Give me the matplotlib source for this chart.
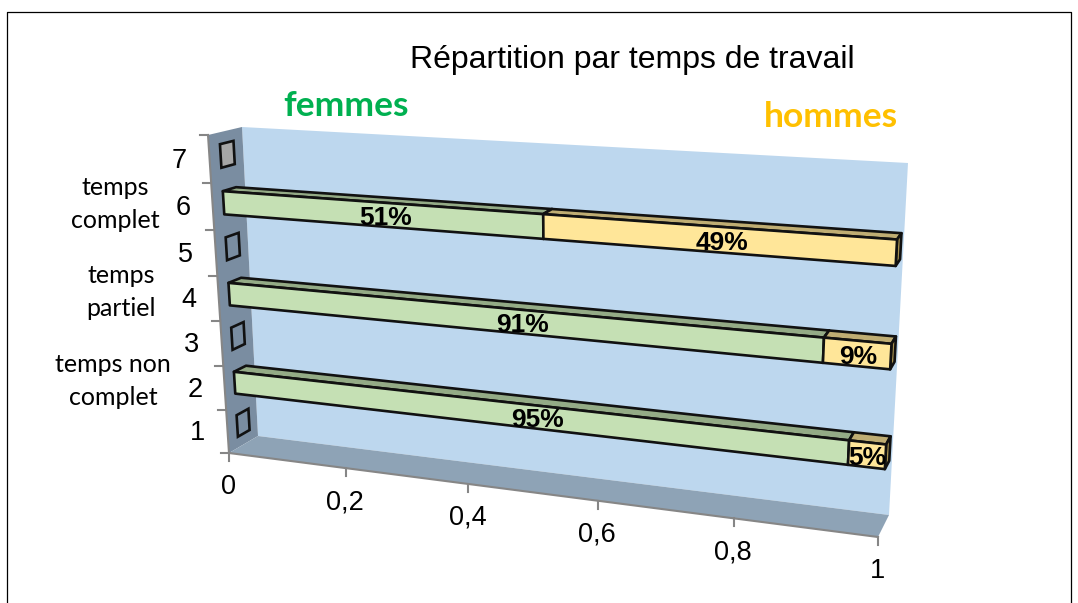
import numpy as np
import matplotlib
matplotlib.use("Agg")
import matplotlib.pyplot as plt
from matplotlib.patches import Polygon

title = "Répartition par temps de travail"
categories = ["temps non\ncomplet", "temps\npartiel", "temps\ncomplet"]
bar_pos = [1.5, 3.5, 5.5]
femmes = [0.95, 0.91, 0.51]
hommes = [0.05, 0.09, 0.49]
empty_pos = [0.5, 2.5, 4.5, 6.5]
x_ticks = [0, 0.2, 0.4, 0.6, 0.8, 1]
x_labels = ["0", "0,2", "0,4", "0,6", "0,8", "1"]
y_ticks = [0, 1, 2, 3, 4, 5, 6, 7]
y_labels = ["1", "2", "3", "4", "5", "6", "7"]

# corners of the 3d box in pixels: (0,0), (1,0), (0,7), (1,7)
front_quad = [(229, 453), (878, 537), (208, 135), (897, 177)]
back_quad = [(258, 436), (889, 515), (242, 127), (908, 163)]
bar_h = 0.25
d0, d1 = 0.33, 0.73


def homography(quad):
    src = [(0, 0), (1, 0), (0, 7), (1, 7)]
    a, b = [], []
    for (x, y), (u, v) in zip(src, quad):
        a.append([x, y, 1, 0, 0, 0, -u * x, -u * y])
        a.append([0, 0, 0, x, y, 1, -v * x, -v * y])
        b += [u, v]
    return np.append(np.linalg.solve(np.array(a, float), np.array(b, float)), 1).reshape(3, 3)


H_front = homography(front_quad)
H_back = homography(back_quad)


def proj(x, y, d=0.0):
    f = H_front @ [x, y, 1]
    b = H_back @ [x, y, 1]
    return (1 - d) * f[:2] / f[2] + d * b[:2] / b[2]


def box(ax, x0, x1, y, face, top, side):
    lo, hi = y - bar_h, y + bar_h
    kw = dict(edgecolor="#111111", linewidth=1.9, joinstyle="round", zorder=5)
    ax.add_patch(Polygon([proj(x0, hi, d0), proj(x1, hi, d0), proj(x1, hi, d1), proj(x0, hi, d1)], facecolor=top, **kw))
    ax.add_patch(Polygon([proj(x1, lo, d0), proj(x1, hi, d0), proj(x1, hi, d1), proj(x1, lo, d1)], facecolor=side, **kw))
    ax.add_patch(Polygon([proj(x0, lo, d0), proj(x1, lo, d0), proj(x1, hi, d0), proj(x0, hi, d0)], facecolor=face, **kw))


fig = plt.figure(figsize=(10.78, 6.03), dpi=100)
ax = fig.add_axes([0, 0, 1, 1])
ax.set_xlim(0, 1078)
ax.set_ylim(603, 0)
ax.axis("off")

# frame of the slide
ax.plot([7, 7, 1071, 1071], [603, 12, 12, 603], color="black", linewidth=0.9)

# walls
ax.add_patch(Polygon([proj(0, 0, 1), proj(1, 0, 1), proj(1, 7, 1), proj(0, 7, 1)], facecolor="#bdd7ee", edgecolor="none"))
ax.add_patch(Polygon([proj(0, 0), proj(0, 7), proj(0, 7, 1), proj(0, 0, 1)], facecolor="#7a8da1", edgecolor="none"))
ax.add_patch(Polygon([proj(0, 0), proj(1, 0), proj(1, 0, 1), proj(0, 0, 1)], facecolor="#8ea3b6", edgecolor="none"))

# axis lines and ticks
ax.plot(*zip(proj(0, 0), proj(1, 0)), color="#868686", linewidth=1.5)
ax.plot(*zip(proj(0, 0), proj(0, 7)), color="#868686", linewidth=1.5)
for t, lab in zip(x_ticks, x_labels):
    p = proj(t, 0)
    ax.plot([p[0], p[0]], [p[1], p[1] + 8], color="#868686", linewidth=1.5)
    ax.text(p[0] - 1, p[1] + 34, lab, ha="center", va="center", fontsize=19.5, family="Liberation Sans")
for t in y_ticks:
    p = proj(0, t)
    ax.plot([p[0] - 8, p[0]], [p[1], p[1]], color="#868686", linewidth=1.5)
for i, lab in enumerate(y_labels):
    p = proj(0, i + 0.5)
    ax.text(p[0] - 30, p[1] + 2, lab, ha="center", va="center", fontsize=19.5, family="Liberation Sans")

# zero length bars of the empty rows
for i, y in enumerate(empty_pos):
    fc = "#a6a6a6" if i == len(empty_pos) - 1 else "none"
    ax.add_patch(Polygon([proj(0, y - bar_h, d0), proj(0, y + bar_h, d0), proj(0, y + bar_h, d1), proj(0, y - bar_h, d1)],
                         facecolor=fc, edgecolor="#111111", linewidth=1.9, zorder=4))

for y, f, h in zip(bar_pos, femmes, hommes):
    box(ax, 0, f, y, "#c5e0b4", "#94ab86", "#94ab86")
    box(ax, f, f + h, y, "#ffe699", "#bfad73", "#a6904f")
    for start, v in ((0, f), (f, h)):
        p = proj(start + v * 0.525, y - 0.07, d0)
        ax.text(p[0], p[1], f"{v:.0%}", ha="center", va="center", fontsize=19, fontweight="bold",
                family="Liberation Sans", zorder=6)

# category names
for (cx, cy), name in zip([(113, 381), (121, 292), (115, 204)], categories):
    ax.text(cx, cy, name, ha="center", va="center", fontsize=18, family="Lato", linespacing=1.5)

ax.text(632, 60, title, ha="center", va="center", fontsize=23, family="Liberation Sans")
ax.text(346, 106, "femmes", ha="center", va="center", fontsize=25.5, fontweight="bold", family="Lato", color="#00b050")
ax.text(831, 117, "hommes", ha="center", va="center", fontsize=25.5, fontweight="bold", family="Lato", color="#ffc000")

fig.savefig("out.png", dpi=100)
